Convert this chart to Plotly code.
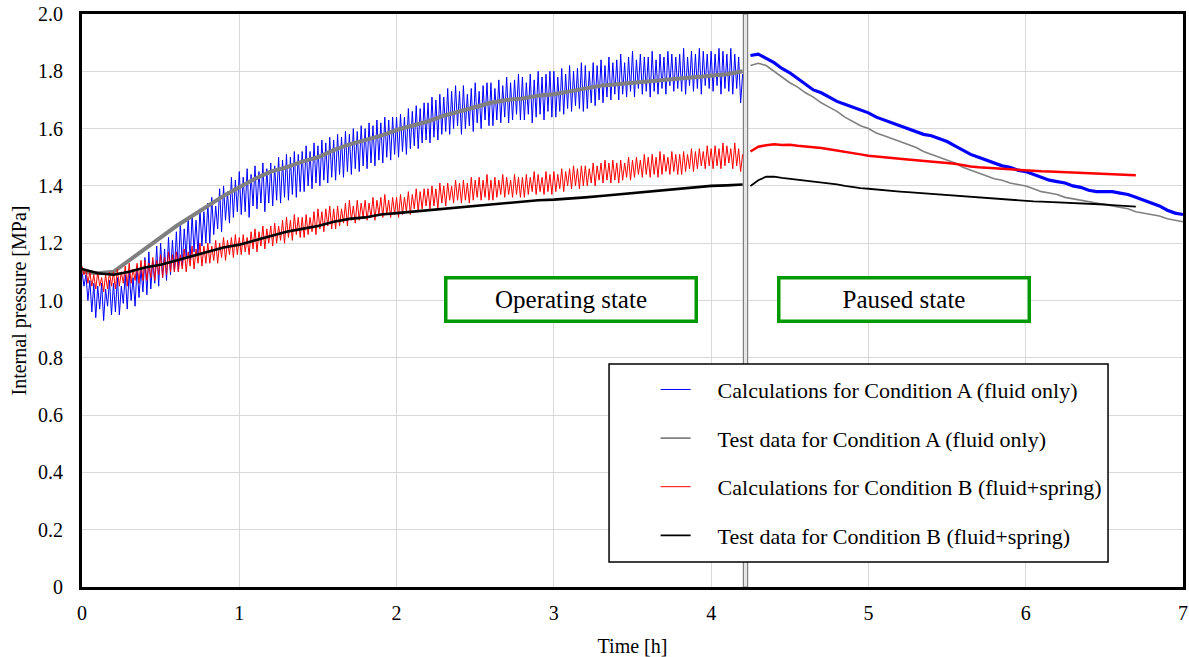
import numpy as np
import plotly.graph_objects as go

# ---------------- data ----------------
# Operating state (0 - 4.2 h), sampled every 0.0125 h
blue_op_t = (0.0, 4.2)
blue_op = [
    1.10, 1.05, 1.09, 1.00, 1.07, 0.96, 1.06, 0.94, 1.05, 0.97, 1.06, 0.93, 1.04, 0.98, 1.07, 0.95,
    1.06, 0.96, 1.08, 0.95, 1.05, 0.99, 1.09, 0.97, 1.10, 1.00, 1.08, 0.98, 1.12, 1.01, 1.11, 1.03,
    1.15, 1.02, 1.17, 1.04, 1.14, 1.06, 1.19, 1.05, 1.20, 1.08, 1.18, 1.07, 1.22, 1.09, 1.21, 1.10,
    1.24, 1.10, 1.27, 1.12, 1.25, 1.15, 1.29, 1.14, 1.30, 1.17, 1.28, 1.16, 1.32, 1.19, 1.31, 1.20,
    1.34, 1.20, 1.36, 1.23, 1.33, 1.25, 1.39, 1.24, 1.40, 1.28, 1.38, 1.27, 1.43, 1.29, 1.42, 1.31,
    1.45, 1.30, 1.43, 1.31, 1.46, 1.29, 1.44, 1.33, 1.47, 1.32, 1.45, 1.34, 1.48, 1.31, 1.46, 1.34,
    1.48, 1.33, 1.47, 1.35, 1.50, 1.34, 1.49, 1.36, 1.51, 1.35, 1.50, 1.37, 1.52, 1.36, 1.51, 1.38,
    1.52, 1.38, 1.54, 1.40, 1.52, 1.39, 1.55, 1.41, 1.54, 1.40, 1.56, 1.42, 1.55, 1.41, 1.57, 1.43,
    1.56, 1.42, 1.58, 1.44, 1.57, 1.43, 1.59, 1.45, 1.58, 1.44, 1.60, 1.46, 1.59, 1.45, 1.61, 1.47,
    1.60, 1.46, 1.62, 1.48, 1.61, 1.47, 1.63, 1.49, 1.62, 1.48, 1.64, 1.50, 1.63, 1.49, 1.64, 1.51,
    1.64, 1.50, 1.65, 1.52, 1.64, 1.51, 1.67, 1.53, 1.66, 1.54, 1.68, 1.53, 1.67, 1.55, 1.69, 1.56,
    1.69, 1.55, 1.71, 1.57, 1.70, 1.56, 1.72, 1.58, 1.71, 1.59, 1.74, 1.58, 1.73, 1.60, 1.75, 1.61,
    1.73, 1.58, 1.75, 1.60, 1.72, 1.61, 1.74, 1.59, 1.76, 1.62, 1.73, 1.60, 1.75, 1.63, 1.76, 1.61,
    1.76, 1.61, 1.74, 1.63, 1.77, 1.62, 1.75, 1.64, 1.78, 1.62, 1.76, 1.63, 1.77, 1.65, 1.79, 1.63,
    1.78, 1.63, 1.76, 1.65, 1.79, 1.62, 1.77, 1.64, 1.80, 1.65, 1.78, 1.63, 1.79, 1.66, 1.80, 1.64,
    1.80, 1.64, 1.78, 1.66, 1.81, 1.65, 1.79, 1.67, 1.82, 1.66, 1.80, 1.68, 1.81, 1.67, 1.83, 1.66,
    1.82, 1.67, 1.80, 1.69, 1.83, 1.68, 1.82, 1.70, 1.84, 1.69, 1.82, 1.71, 1.85, 1.70, 1.83, 1.72,
    1.84, 1.70, 1.86, 1.72, 1.83, 1.71, 1.85, 1.73, 1.87, 1.71, 1.84, 1.74, 1.86, 1.72, 1.85, 1.73,
    1.85, 1.71, 1.87, 1.73, 1.84, 1.72, 1.86, 1.74, 1.85, 1.72, 1.87, 1.75, 1.86, 1.73, 1.85, 1.74,
    1.86, 1.73, 1.88, 1.72, 1.85, 1.75, 1.87, 1.73, 1.86, 1.74, 1.88, 1.72, 1.87, 1.75, 1.86, 1.74,
    1.87, 1.73, 1.86, 1.75, 1.88, 1.72, 1.87, 1.74, 1.86, 1.73, 1.88, 1.72, 1.86, 1.74, 1.85, 1.69,
    1.79,
]
red_op_t = (0.0, 4.2)
red_op = [
    1.12, 1.09, 1.11, 1.06, 1.10, 1.05, 1.09, 1.04, 1.10, 1.05, 1.08, 1.03, 1.09, 1.04, 1.10, 1.05,
    1.10, 1.04, 1.11, 1.05, 1.10, 1.06, 1.12, 1.05, 1.13, 1.06, 1.11, 1.07, 1.13, 1.06, 1.14, 1.07,
    1.14, 1.07, 1.13, 1.08, 1.15, 1.07, 1.14, 1.09, 1.16, 1.08, 1.15, 1.09, 1.17, 1.10, 1.16, 1.10,
    1.17, 1.10, 1.16, 1.11, 1.18, 1.10, 1.17, 1.12, 1.19, 1.11, 1.18, 1.13, 1.20, 1.12, 1.19, 1.13,
    1.20, 1.13, 1.19, 1.14, 1.21, 1.13, 1.20, 1.15, 1.22, 1.14, 1.21, 1.16, 1.22, 1.15, 1.23, 1.16,
    1.22, 1.16, 1.23, 1.17, 1.22, 1.16, 1.24, 1.18, 1.25, 1.17, 1.24, 1.19, 1.26, 1.18, 1.25, 1.20,
    1.26, 1.19, 1.27, 1.20, 1.26, 1.21, 1.28, 1.20, 1.29, 1.22, 1.28, 1.21, 1.30, 1.23, 1.29, 1.22,
    1.29, 1.22, 1.30, 1.23, 1.29, 1.24, 1.31, 1.23, 1.32, 1.25, 1.31, 1.24, 1.32, 1.26, 1.33, 1.25,
    1.32, 1.25, 1.33, 1.26, 1.32, 1.27, 1.34, 1.26, 1.35, 1.28, 1.33, 1.27, 1.35, 1.28, 1.34, 1.29,
    1.35, 1.28, 1.34, 1.29, 1.36, 1.28, 1.35, 1.30, 1.36, 1.29, 1.37, 1.30, 1.35, 1.29, 1.36, 1.30,
    1.36, 1.29, 1.37, 1.30, 1.36, 1.31, 1.38, 1.30, 1.37, 1.32, 1.39, 1.31, 1.38, 1.32, 1.39, 1.33,
    1.39, 1.32, 1.40, 1.33, 1.39, 1.32, 1.41, 1.34, 1.40, 1.33, 1.41, 1.35, 1.40, 1.34, 1.42, 1.35,
    1.41, 1.34, 1.42, 1.35, 1.41, 1.34, 1.43, 1.35, 1.42, 1.36, 1.43, 1.35, 1.42, 1.36, 1.44, 1.35,
    1.42, 1.35, 1.43, 1.36, 1.42, 1.37, 1.44, 1.36, 1.43, 1.37, 1.42, 1.36, 1.44, 1.37, 1.43, 1.36,
    1.43, 1.36, 1.44, 1.37, 1.43, 1.38, 1.45, 1.37, 1.44, 1.38, 1.43, 1.37, 1.45, 1.38, 1.44, 1.37,
    1.45, 1.38, 1.44, 1.39, 1.46, 1.38, 1.45, 1.40, 1.46, 1.39, 1.47, 1.40, 1.46, 1.39, 1.47, 1.40,
    1.47, 1.40, 1.46, 1.41, 1.48, 1.40, 1.47, 1.42, 1.48, 1.41, 1.49, 1.42, 1.48, 1.41, 1.49, 1.42,
    1.48, 1.41, 1.49, 1.42, 1.48, 1.43, 1.50, 1.42, 1.49, 1.43, 1.50, 1.44, 1.49, 1.43, 1.51, 1.44,
    1.50, 1.43, 1.51, 1.44, 1.50, 1.43, 1.52, 1.44, 1.51, 1.45, 1.50, 1.44, 1.52, 1.45, 1.51, 1.44,
    1.51, 1.44, 1.52, 1.45, 1.51, 1.46, 1.53, 1.45, 1.52, 1.46, 1.53, 1.47, 1.52, 1.46, 1.54, 1.47,
    1.53, 1.46, 1.54, 1.47, 1.53, 1.46, 1.55, 1.47, 1.54, 1.48, 1.53, 1.46, 1.55, 1.47, 1.53, 1.45,
    1.51,
]
gray_op_t = (0.0, 4.2)
gray_op = [
    1.10, 1.095, 1.10, 1.14, 1.18, 1.22, 1.26, 1.295, 1.33, 1.365,
    1.395, 1.425, 1.45, 1.465, 1.485, 1.50, 1.525, 1.545, 1.56, 1.575,
    1.595, 1.61, 1.625, 1.645, 1.66, 1.675, 1.69, 1.70, 1.705, 1.715,
    1.72, 1.73, 1.74, 1.75, 1.755, 1.76, 1.765, 1.77, 1.775, 1.78,
    1.785, 1.79, 1.80,
]
black_op_t = (0.0, 4.2)
black_op = [
    1.11, 1.095, 1.09, 1.10, 1.115, 1.125, 1.14, 1.155, 1.17, 1.185,
    1.195, 1.21, 1.225, 1.24, 1.25, 1.26, 1.275, 1.285, 1.29, 1.30,
    1.305, 1.31, 1.315, 1.32, 1.327, 1.33, 1.335, 1.34, 1.345, 1.35,
    1.352, 1.355, 1.36, 1.365, 1.37, 1.375, 1.38, 1.385, 1.39, 1.395,
    1.40, 1.402, 1.405,
]

# Paused state
blue_pause_t = (4.25, 7.0)
blue_pause = [
    1.855, 1.86, 1.845, 1.83, 1.81, 1.795, 1.775, 1.755, 1.735, 1.725,
    1.71, 1.695, 1.685, 1.675, 1.665, 1.655, 1.64, 1.63, 1.62, 1.61,
    1.60, 1.59, 1.58, 1.575, 1.565, 1.555, 1.54, 1.525, 1.51, 1.50,
    1.49, 1.48, 1.47, 1.465, 1.455, 1.45, 1.44, 1.43, 1.42, 1.415,
    1.41, 1.40, 1.395, 1.385, 1.38, 1.38, 1.38, 1.375, 1.37, 1.36,
    1.35, 1.34, 1.33, 1.315, 1.305, 1.30,
]
gray_pause_t = (4.25, 7.0)
gray_pause = [
    1.82, 1.828, 1.82, 1.80, 1.78, 1.76, 1.745, 1.725, 1.71, 1.69,
    1.675, 1.66, 1.64, 1.625, 1.61, 1.60, 1.585, 1.575, 1.565, 1.555,
    1.545, 1.535, 1.52, 1.51, 1.50, 1.49, 1.48, 1.465, 1.455, 1.445,
    1.435, 1.425, 1.42, 1.41, 1.405, 1.40, 1.39, 1.38, 1.375, 1.37,
    1.36, 1.355, 1.35, 1.345, 1.34, 1.335, 1.33, 1.325, 1.32, 1.31,
    1.305, 1.30, 1.295, 1.285, 1.28, 1.275,
]
red_pause_t = (4.25, 6.7)
red_pause = [
    1.52, 1.537, 1.542, 1.545, 1.543, 1.544, 1.54, 1.538, 1.535, 1.532,
    1.528, 1.524, 1.52, 1.515, 1.51, 1.505, 1.503, 1.50, 1.497, 1.495,
    1.492, 1.49, 1.487, 1.485, 1.482, 1.48, 1.477, 1.472, 1.468, 1.465,
    1.463, 1.461, 1.459, 1.457, 1.455, 1.454, 1.452, 1.451, 1.45, 1.449,
    1.448, 1.447, 1.446, 1.445, 1.444, 1.442, 1.441, 1.44, 1.438, 1.437,
]
black_pause_t = (4.25, 6.7)
black_pause = [
    1.40, 1.42, 1.432, 1.432, 1.428, 1.425, 1.422, 1.418, 1.415, 1.412,
    1.41, 1.405, 1.40, 1.395, 1.392, 1.39, 1.387, 1.384, 1.382, 1.38,
    1.378, 1.376, 1.374, 1.372, 1.37, 1.368, 1.365, 1.362, 1.36, 1.358,
    1.356, 1.354, 1.352, 1.35, 1.349, 1.348, 1.346, 1.345, 1.344, 1.342,
    1.34, 1.339, 1.34, 1.338, 1.336, 1.335, 1.333, 1.332, 1.33, 1.328,
]

series_names = [
    "Calculations for Condition A (fluid only)",
    "Test data for Condition A (fluid only)",
    "Calculations for Condition B (fluid+spring)",
    "Test data for Condition B (fluid+spring)",
]
x_ticks = [0, 1, 2, 3, 4, 5, 6, 7]
y_tickvals = [0, 0.2, 0.4, 0.6, 0.8, 1.0, 1.2, 1.4, 1.6, 1.8, 2.0]
y_ticktext = ["0", "0.2", "0.4", "0.6", "0.8", "1.0", "1.2", "1.4", "1.6", "1.8", "2.0"]
state_labels = ["Operating state", "Paused state"]
state_pos = [(3.109, 1.005), (5.229, 1.005)]
switch_time = (4.205, 4.232)

FONT = "Liberation Serif, Times New Roman, serif"
GAP = "\u00a0" * 4


def times(rng, vals):
    return np.linspace(rng[0], rng[1], len(vals))


fig = go.Figure()

# (series idx, t-range, values, colour, width, show in legend)
segments = [
    (0, blue_op_t, blue_op, "#0000ff", 1.0, True),
    (0, blue_pause_t, blue_pause, "#0000ff", 3.2, False),
    (1, gray_op_t, gray_op, "#808080", 4.0, False),
    (1, gray_pause_t, gray_pause, "#808080", 1.6, True),
    (2, red_op_t, red_op, "#ff0000", 1.0, True),
    (2, red_pause_t, red_pause, "#ff0000", 2.5, False),
    (3, black_op_t, black_op, "#000000", 2.6, False),
    (3, black_pause_t, black_pause, "#000000", 1.8, True),
]
for idx, rng, vals, col, w, leg in segments:
    fig.add_trace(go.Scatter(
        x=times(rng, vals), y=vals, mode="lines",
        line=dict(color=col, width=w),
        name=GAP + series_names[idx], legendgroup=f"g{idx}", legendrank=idx + 1,
        showlegend=leg, hoverinfo="skip",
    ))

# switch-over double line
fig.add_shape(type="rect", xref="x", yref="y", x0=switch_time[0], x1=switch_time[1],
              y0=0, y1=2.0, line=dict(color="#7f7f7f", width=1.2),
              fillcolor="#e6e6e6", layer="between")

# legend frame
fig.add_shape(type="rect", xref="paper", yref="paper",
              x0=0.4787, x1=0.9319, y0=0.0436, y1=0.389,
              line=dict(color="black", width=1.5), fillcolor="white", layer="above")

for txt, (xp, yp) in zip(state_labels, state_pos):
    fig.add_annotation(x=xp, y=yp, xref="x", yref="y", text=txt, showarrow=False,
                       font=dict(family=FONT, size=25, color="black"),
                       bgcolor="white", bordercolor="#009900", borderwidth=3.5,
                       borderpad=0, width=247, height=40)

fig.update_layout(
    width=1189, height=657,
    margin=dict(l=82, r=6, t=14, b=70, autoexpand=False),
    paper_bgcolor="white", plot_bgcolor="white",
    font=dict(family=FONT, size=20, color="black"),
    showlegend=True,
    legend=dict(
        x=0.521, y=0.381, xanchor="left", yanchor="top",
        bgcolor="rgba(0,0,0,0)", borderwidth=0,
        font=dict(family=FONT, size=22, color="black"),
        traceorder="grouped", tracegroupgap=17,
    ),
    xaxis=dict(
        range=[0, 7], tickvals=x_ticks, showgrid=True, gridcolor="#d9d9d9", gridwidth=1,
        showline=True, linecolor="black", linewidth=3, mirror=True, zeroline=False,
        ticks="", ticklabelstandoff=6, ticklabeloverflow="allow", automargin=False,
        title=dict(text="Time [h]", font=dict(family=FONT, size=20), standoff=16),
    ),
    yaxis=dict(
        range=[0, 2.0], tickvals=y_tickvals, ticktext=y_ticktext,
        showgrid=True, gridcolor="#d9d9d9", gridwidth=1,
        showline=True, linecolor="black", linewidth=3, mirror=True, zeroline=False,
        ticks="", ticklabelstandoff=12, ticklabeloverflow="allow", automargin=False,
        title=dict(text="Internal pressure [MPa]", font=dict(family=FONT, size=20), standoff=7),
    ),
)

# remove the browser's default 8 px page margin so the figure fills the window
fig.write_html("out.html", config={"displayModeBar": False},
               post_script="document.body.style.margin='0';")
